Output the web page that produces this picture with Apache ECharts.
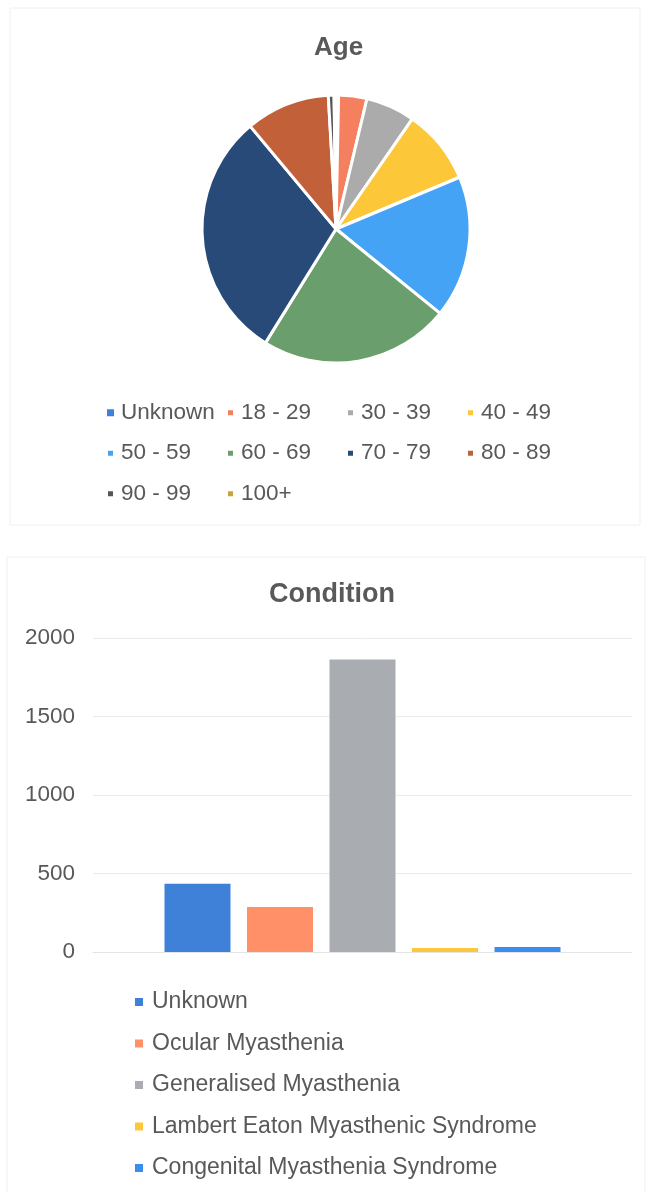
<!DOCTYPE html>
<html>
<head>
<meta charset="utf-8">
<script src="https://cdn.jsdelivr.net/npm/echarts@6/dist/echarts.min.js"></script>
<style>
  html, body { margin: 0; padding: 0; background: #fff; }
  #chart { width: 652px; height: 1192px; }
</style>
</head>
<body>
<div id="chart"></div>
<script>
const ageGroups = ['Unknown', '18 - 29', '30 - 39', '40 - 49', '50 - 59', '60 - 69', '70 - 79', '80 - 89', '90 - 99', '100+'];
const ageCounts = [8, 89, 155, 236, 448, 600, 786, 265, 18, 6];
const ageColors = ['#4472c4', '#f4805f', '#ababab', '#fdc73a', '#45a3f5', '#6b9e6d', '#284a78', '#c2603a', '#555555', '#c9a23f'];

const conditions = ['Unknown', 'Ocular Myasthenia', 'Generalised Myasthenia', 'Lambert Eaton Myasthenic Syndrome', 'Congenital Myasthenia Syndrome'];
const conditionCounts = [434, 287, 1863, 25, 32];
const conditionColors = ['#3f80d8', '#ff9068', '#a9acb1', '#fdc73c', '#3b8ef0'];

const yTicks = { min: 0, max: 2000, interval: 500 };

const font = "'Liberation Sans', Arial, sans-serif";
const grey = '#595959';

const chart = echarts.init(document.getElementById('chart'));

const barSeries = conditions.map((name, i) => ({
  type: 'bar',
  name: name,
  data: [conditionCounts[i]],
  barWidth: 66,
  barGap: '25%',
  itemStyle: { color: conditionColors[i] }
}));

chart.setOption({
  animation: false,
  textStyle: { fontFamily: font },
  graphic: [
    { type: 'rect', shape: { x: 10, y: 8, width: 630, height: 517 }, style: { fill: 'none', stroke: '#f0f0f0', lineWidth: 1 } },
    { type: 'rect', shape: { x: 7, y: 557, width: 638, height: 640 }, style: { fill: 'none', stroke: '#f0f0f0', lineWidth: 1 } }
  ],
  title: [
    { text: 'Age', left: 309, top: 30, textStyle: { fontFamily: font, fontSize: 26, fontWeight: 'bold', color: grey } },
    { text: 'Condition', left: 264, top: 576, textStyle: { fontFamily: font, fontSize: 27, fontWeight: 'bold', color: grey } }
  ],
  legend: [
    {
      data: ageGroups,
      left: 101,
      right: 60,
      top: 392.5,
      orient: 'horizontal',
      icon: 'rect',
      itemWidth: 7,
      itemHeight: 7,
      itemGap: 10,
      textStyle: { fontFamily: font, fontSize: 22.5, color: grey, width: 95, lineHeight: 30.5, padding: [0, 0, 0, 2] }
    },
    {
      data: conditions,
      left: 130,
      top: 982.5,
      orient: 'vertical',
      icon: 'rect',
      itemWidth: 8,
      itemHeight: 8,
      itemGap: 12.5,
      textStyle: { fontFamily: font, fontSize: 23, color: grey, lineHeight: 29, padding: [0, 0, 0, 4] }
    }
  ],
  grid: { left: 93, right: 20, top: 638, bottom: 240 },
  xAxis: {
    type: 'category',
    data: [''],
    axisLine: { lineStyle: { color: '#e4e4e4' } },
    axisTick: { show: false },
    axisLabel: { show: false }
  },
  yAxis: {
    type: 'value',
    min: yTicks.min,
    max: yTicks.max,
    interval: yTicks.interval,
    axisLine: { show: false },
    axisTick: { show: false },
    axisLabel: { fontFamily: font, fontSize: 22.5, color: grey, margin: 18, formatter: v => String(v) },
    splitLine: { lineStyle: { color: '#ebebeb' } }
  },
  series: [
    {
      type: 'pie',
      name: 'Age',
      center: [336, 229],
      radius: 134,
      startAngle: 90,
      clockwise: true,
      label: { show: false },
      labelLine: { show: false },
      itemStyle: { borderColor: '#fff', borderWidth: 3 },
      data: ageGroups.map((name, i) => ({ name: name, value: ageCounts[i], itemStyle: { color: ageColors[i] } }))
    }
  ].concat(barSeries)
});
</script>
</body>
</html>
